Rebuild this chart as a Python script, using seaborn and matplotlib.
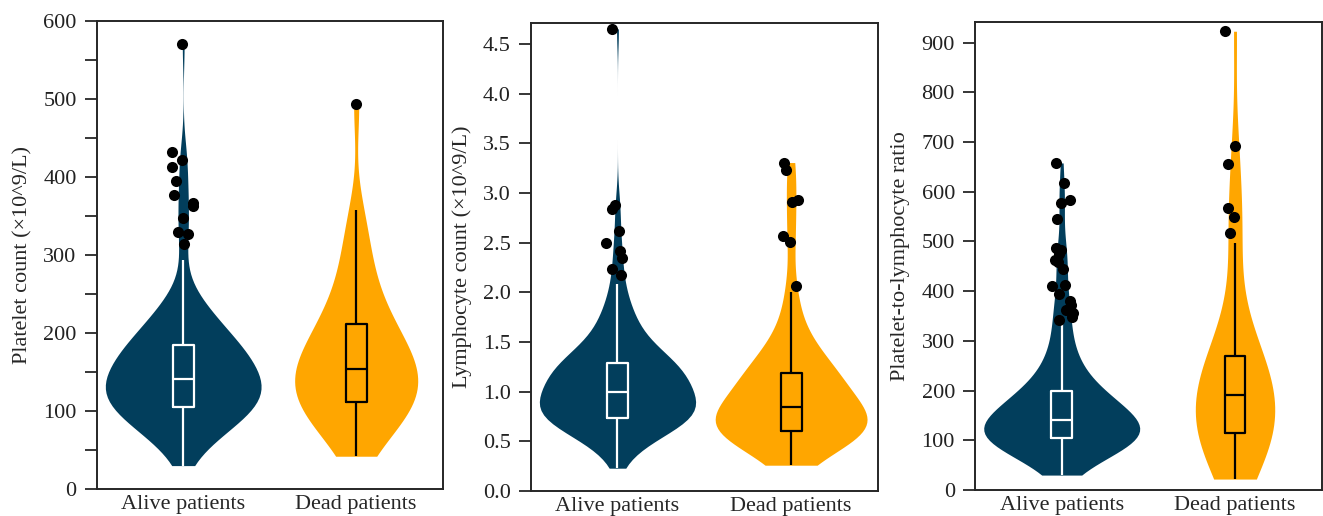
import numpy as np
import pandas as pd
import seaborn as sns
import matplotlib.pyplot as plt
from matplotlib.ticker import MultipleLocator

groups = ["Alive patients", "Dead patients"]
violin_colors = ["#023e5c", "#ffa600"]
box_colors = ["white", "black"]

# distinct values and how many patients have each one
platelet_alive_values = [30, 40, 50, 60, 70, 80, 90, 100, 105, 115, 125, 133, 141, 150, 160,
                         170, 178, 185, 195, 205, 215, 225, 235, 245, 255, 270, 294,
                         314, 327, 329, 347, 362, 367, 377, 394, 413, 422, 432, 570]
platelet_alive_counts = [1, 2, 3, 4, 6, 8, 11, 12, 6, 13, 15, 12, 10, 11, 11,
                         11, 10, 6, 8, 7, 6, 5, 4, 2, 2, 1, 1,
                         1, 1, 1, 1, 1, 1, 1, 1, 1, 1, 1, 1]
platelet_dead = [42, 55, 65, 72, 80, 86, 90, 95, 98, 102, 105, 108, 112, 116, 120, 124, 128,
                 131, 135, 138, 142, 145, 148, 151, 154, 158, 162, 166, 170, 175, 180, 185,
                 190, 195, 200, 205, 211, 218, 226, 235, 245, 256, 268, 282, 298, 316, 336,
                 358, 493]

lymph_alive_values = [0.23, 0.35, 0.42, 0.50, 0.57, 0.64, 0.70, 0.735, 0.80, 0.87, 0.94, 1.00,
                      1.07, 1.14, 1.21, 1.286, 1.36, 1.44, 1.52, 1.62, 1.72, 1.83, 1.95, 2.085,
                      2.176, 2.240, 2.344, 2.421, 2.495, 2.623, 2.841, 2.881, 4.654]
lymph_alive_counts = [1, 2, 3, 5, 7, 9, 10, 14, 13, 14, 13, 10,
                      12, 12, 12, 14, 8, 7, 6, 5, 5, 4, 3, 2,
                      1, 1, 1, 1, 1, 1, 1, 1, 1]
lymph_dead_values = [0.26, 0.33, 0.40, 0.45, 0.50, 0.54, 0.57, 0.59, 0.60, 0.608,
                     0.64, 0.68, 0.72, 0.76, 0.80, 0.843,
                     0.88, 0.93, 0.98, 1.03, 1.08, 1.13, 1.16, 1.185,
                     1.22, 1.27, 1.32, 1.38, 1.44, 1.52, 1.62, 1.75, 1.88, 2.00,
                     2.065, 2.505, 2.569, 2.911, 2.931, 3.234, 3.308]
lymph_dead_counts = [1, 1, 1, 2, 2, 3, 4, 5, 5, 1,
                     5, 6, 6, 4, 2, 1,
                     3, 3, 3, 3, 3, 4, 4, 1,
                     2, 2, 2, 2, 2, 2, 2, 1, 1, 1,
                     1, 1, 1, 1, 1, 1, 1]

plr_alive_values = [30, 40, 50, 60, 70, 80, 90, 98, 105, 112, 120, 128, 135, 141, 150, 160,
                    170, 180, 190, 199.5, 215, 235, 255, 275, 295, 315, 335,
                    343, 348, 356, 362, 372, 381, 395, 411, 413, 445, 458, 462, 475, 482,
                    486, 546, 578, 583, 617, 658]
plr_alive_counts = [1, 2, 3, 4, 6, 8, 10, 12, 6, 14, 15, 12, 5, 4, 10, 9,
                    9, 8, 8, 5, 7, 6, 5, 4, 3, 2, 2,
                    1, 1, 1, 1, 1, 1, 1, 1, 1, 1, 1, 1, 1, 1,
                    1, 1, 1, 1, 1, 1]
plr_dead = [22, 30, 40, 50, 58, 66, 74, 82, 90, 98, 105, 110, 115.5, 120, 125, 130, 136, 142,
            148, 155, 162, 169, 176, 184, 191.4, 198, 205, 212, 219, 226, 233, 240, 246, 252,
            258, 263, 268.6, 285, 305, 330, 360, 400, 497, 518, 549, 568, 655, 692, 923]

ylabels = ["Platelet count (\u00d710^9/L)", "Lymphocyte count (\u00d710^9/L)",
           "Platelet-to-lymphocyte ratio"]

sns.set_style("ticks")
plt.rcParams["font.family"] = ["Liberation Serif", "DejaVu Serif"]
plt.rcParams["axes.linewidth"] = 1.4


def make_frame(alive, dead):
    return pd.DataFrame({
        "group": [groups[0]] * len(alive) + [groups[1]] * len(dead),
        "value": np.concatenate([alive, dead]),
    })


def outliers(df):
    parts = []
    for g, sub in df.groupby("group"):
        q1, q3 = np.percentile(sub["value"], [25, 75])
        iqr = q3 - q1
        parts.append(sub[(sub["value"] > q3 + 1.5 * iqr) | (sub["value"] < q1 - 1.5 * iqr)])
    return pd.concat(parts)


def draw_panel(ax, df, ylabel, ylim, major, minor=None):
    sns.violinplot(data=df, x="group", y="value", hue="group", order=groups, hue_order=groups,
                   palette=violin_colors, inner=None, cut=0, width=0.9, linewidth=0,
                   density_norm="area", common_norm=True, saturation=1, legend=False, ax=ax)
    sns.boxplot(data=df, x="group", y="value", hue="group", order=groups, hue_order=groups,
                palette=box_colors, fill=False, width=0.12, showcaps=False, showfliers=False,
                linewidth=1.6, legend=False, ax=ax)
    sns.stripplot(data=outliers(df), x="group", y="value", order=groups, color="black",
                  size=8, jitter=0.07, ax=ax, zorder=5)
    ax.set_xlim(-0.5, 1.5)
    ax.set_ylim(*ylim)
    ax.yaxis.set_major_locator(MultipleLocator(major))
    if minor:
        ax.yaxis.set_minor_locator(MultipleLocator(minor))
    ax.set_xlabel("")
    ax.set_ylabel(ylabel, fontsize=16, labelpad=8)
    for s in ax.spines.values():
        s.set_visible(True)
        s.set_linewidth(1.4)
    ax.tick_params(axis="y", which="both", direction="out", length=8.5, width=1.3,
                   labelsize=16, labelcolor="#222222", pad=6)
    ax.tick_params(axis="x", length=0, labelsize=16, pad=4.5)


np.random.seed(3)
fig = plt.figure(figsize=(13.23, 5.16), dpi=100)
ax1 = fig.add_axes([0.0731, 0.0523, 0.2615, 0.9076])
ax2 = fig.add_axes([0.4011, 0.0484, 0.2625, 0.9064])
ax3 = fig.add_axes([0.7370, 0.0504, 0.2620, 0.9064])

platelet_alive = np.repeat(platelet_alive_values, platelet_alive_counts)
lymph_alive = np.repeat(lymph_alive_values, lymph_alive_counts)
lymph_dead = np.repeat(lymph_dead_values, lymph_dead_counts)
plr_alive = np.repeat(plr_alive_values, plr_alive_counts)

draw_panel(ax1, make_frame(platelet_alive, platelet_dead), ylabels[0], (0, 600), 100, 50)
draw_panel(ax2, make_frame(lymph_alive, lymph_dead), ylabels[1], (0, 4.71), 0.5)
draw_panel(ax3, make_frame(plr_alive, plr_dead), ylabels[2], (0, 941), 100)

fig.savefig("out.png", dpi=100)
